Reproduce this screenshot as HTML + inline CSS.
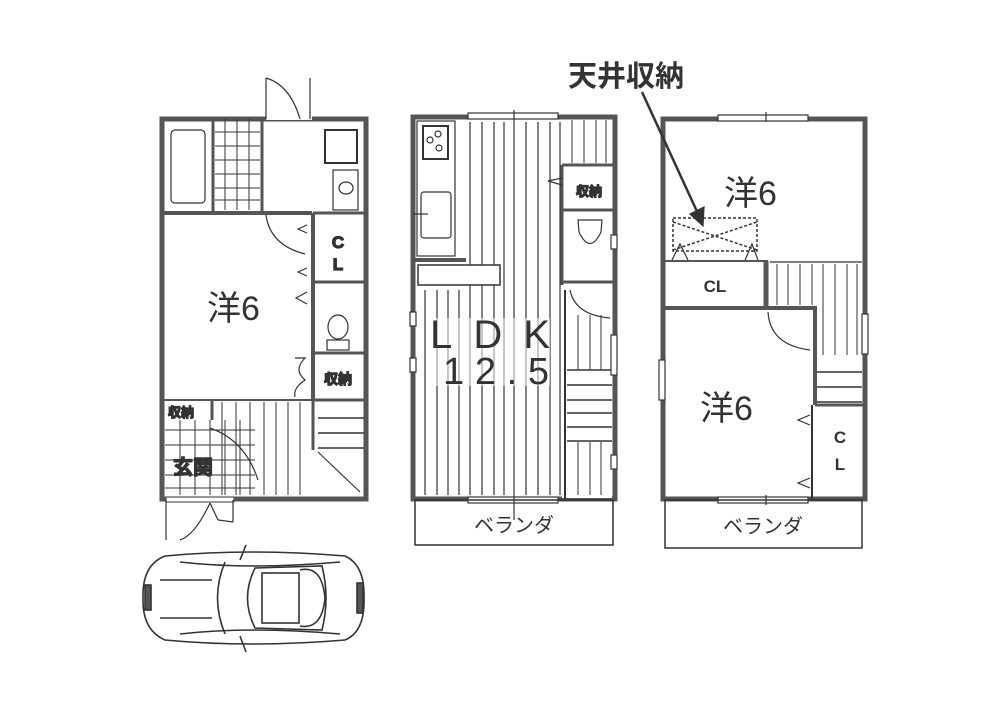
<!DOCTYPE html>
<html><head><meta charset="utf-8"><style>
html,body{margin:0;padding:0;background:#fff;}
svg{display:block}
text{font-family:"Liberation Sans","Noto Sans CJK JP",sans-serif;fill:#333;}
</style></head><body>
<svg width="1000" height="706" viewBox="0 0 1000 706" xmlns="http://www.w3.org/2000/svg">
<rect width="1000" height="706" fill="#fff"/>
<g stroke="#333" fill="none" stroke-width="1.2">

<!-- ===== PLAN 1 ===== -->
<rect x="162" y="119" width="204" height="380" stroke="#555" stroke-width="5"/>
<!-- top door -->
<rect x="266" y="114" width="46" height="6" fill="#fff" stroke="none"/>
<line x1="266" y1="78" x2="266" y2="119"/><line x1="310" y1="78" x2="310" y2="119"/>
<path d="M266 78 Q290 85 300 119"/>
<!-- bath wall -->
<line x1="162" y1="213" x2="312" y2="213" stroke="#555" stroke-width="4"/>
<line x1="213" y1="119" x2="213" y2="213" stroke="#555" stroke-width="3"/>
<line x1="262" y1="119" x2="262" y2="213" stroke="#555" stroke-width="3"/>
<rect x="171" y="130" width="34" height="73" rx="4"/>
<!-- tiles -->
<g stroke-width="1">
<line x1="225" y1="119" x2="225" y2="210"/><line x1="237" y1="119" x2="237" y2="210"/><line x1="249" y1="119" x2="249" y2="210"/>
<line x1="215" y1="132" x2="260" y2="132"/><line x1="215" y1="146" x2="260" y2="146"/><line x1="215" y1="160" x2="260" y2="160"/><line x1="215" y1="174" x2="260" y2="174"/><line x1="215" y1="188" x2="260" y2="188"/><line x1="215" y1="200" x2="260" y2="200"/>
</g>
<!-- washer etc -->
<rect x="325" y="130" width="32" height="33" stroke-width="2"/>
<rect x="333" y="170" width="25" height="40"/>
<ellipse cx="346" cy="188" rx="7" ry="6"/>
<!-- right column -->
<line x1="313" y1="213" x2="313" y2="400" stroke="#555" stroke-width="4"/>
<line x1="313" y1="213" x2="366" y2="213" stroke="#555" stroke-width="3"/>
<line x1="313" y1="282" x2="366" y2="282" stroke="#555" stroke-width="3"/>
<line x1="313" y1="353" x2="366" y2="353" stroke="#555" stroke-width="3"/>
<line x1="313" y1="400" x2="366" y2="400" stroke="#555" stroke-width="3"/>
<path d="M266 215 Q270 245 305 254"/>
<path d="M307 225 L298 229 L307 233 M307 268 L298 272 L307 276 M307 292 L296 298 L307 304"/>
<ellipse cx="338" cy="327" rx="10" ry="12"/><rect x="327" y="340" width="22" height="10"/>
<path d="M295 358 L305 358 Q293 370 305 380 Q293 388 295 397"/>
<text x="338" y="248" font-size="17" text-anchor="middle" font-weight="bold">C</text>
<text x="338" y="270" font-size="17" text-anchor="middle" font-weight="bold">L</text>
<text x="338" y="384" font-size="14" text-anchor="middle" font-weight="bold">収納</text>
<text x="207" y="320" font-size="34" stroke="none">洋6</text>
<!-- stairs right -->
<g stroke-width="1.5"><line x1="318" y1="418" x2="364" y2="418"/><line x1="318" y1="433" x2="364" y2="433"/><line x1="318" y1="448" x2="364" y2="448"/></g>
<line x1="313" y1="400" x2="313" y2="450" stroke="#555" stroke-width="3"/>
<line x1="318" y1="452" x2="360" y2="492"/>
<!-- bottom left -->
<line x1="162" y1="400" x2="313" y2="400" stroke="#555" stroke-width="2"/>
<g stroke-width="1"><line x1="222" y1="402" x2="222" y2="495"/><line x1="236" y1="402" x2="236" y2="495"/><line x1="250" y1="402" x2="250" y2="495"/><line x1="264" y1="402" x2="264" y2="495"/><line x1="276" y1="402" x2="276" y2="495"/><line x1="288" y1="402" x2="288" y2="495"/><line x1="300" y1="402" x2="300" y2="495"/>
<line x1="165" y1="430" x2="255" y2="430"/><line x1="165" y1="445" x2="255" y2="445"/><line x1="165" y1="460" x2="255" y2="460"/><line x1="165" y1="475" x2="255" y2="475"/><line x1="165" y1="488" x2="255" y2="488"/>
<line x1="180" y1="420" x2="180" y2="495"/><line x1="195" y1="420" x2="195" y2="495"/><line x1="210" y1="420" x2="210" y2="495"/><line x1="225" y1="420" x2="225" y2="495"/><line x1="240" y1="420" x2="240" y2="495"/></g>
<line x1="212" y1="400" x2="212" y2="420" stroke="#555" stroke-width="3"/>
<path d="M210 428 Q245 440 258 480"/>
<text x="168" y="417" font-size="13" font-weight="bold">収納</text>
<text x="173" y="474" font-size="20" font-weight="bold">玄関</text>
<!-- bottom door -->
<rect x="166" y="497" width="68" height="5" fill="#fff" stroke="#555"/>
<line x1="166" y1="500" x2="166" y2="540"/><line x1="233" y1="500" x2="233" y2="522"/>
<path d="M210 503 L218 520 L233 522 M180 540 Q195 535 210 503"/>

<!-- ===== PLAN 2 ===== -->
<rect x="413" y="117" width="202" height="382" stroke="#555" stroke-width="5"/>
<rect x="468" y="113" width="90" height="6" fill="#fff"/>
<rect x="468" y="497" width="90" height="6" fill="#fff"/>
<line x1="514" y1="110" x2="514" y2="520"/>
<rect x="415" y="500" width="198" height="45" stroke-width="1.5"/>
<text x="514" y="532" font-size="20" text-anchor="middle" stroke="none">ベランダ</text>
<g stroke-width="1.2">
<line x1="470" y1="122" x2="470" y2="495"/><line x1="482" y1="122" x2="482" y2="495"/><line x1="494" y1="122" x2="494" y2="495"/><line x1="504" y1="122" x2="504" y2="495"/><line x1="526" y1="122" x2="526" y2="495"/><line x1="538" y1="122" x2="538" y2="495"/><line x1="550" y1="122" x2="550" y2="495"/><line x1="560" y1="122" x2="560" y2="495"/>
<line x1="425" y1="290" x2="425" y2="495"/><line x1="437" y1="290" x2="437" y2="495"/><line x1="448" y1="290" x2="448" y2="495"/><line x1="459" y1="290" x2="459" y2="495"/>
</g>
<rect x="417" y="121" width="38" height="135" fill="#fff"/>
<rect x="423" y="126" width="25" height="33" stroke-width="2"/>
<circle cx="430" cy="140" r="3"/><circle cx="438" cy="134" r="3"/><circle cx="439" cy="148" r="3"/>
<rect x="421" y="192" width="30" height="46" rx="3"/>
<line x1="413" y1="214" x2="428" y2="214"/>
<line x1="415" y1="260" x2="466" y2="260" stroke="#555" stroke-width="4"/>
<rect x="418" y="265" width="82" height="20" fill="#fff" stroke-width="1.5"/>
<!-- right column -->
<rect x="562" y="120" width="50" height="378" fill="#fff" stroke="none"/>
<g stroke-width="1"><line x1="572" y1="120" x2="572" y2="163"/><line x1="584" y1="120" x2="584" y2="163"/><line x1="596" y1="120" x2="596" y2="163"/><line x1="606" y1="120" x2="606" y2="163"/></g>
<line x1="562" y1="165" x2="615" y2="165" stroke="#555" stroke-width="3"/>
<line x1="562" y1="165" x2="562" y2="285" stroke="#555" stroke-width="3"/>
<line x1="562" y1="210" x2="615" y2="210" stroke="#555" stroke-width="3"/>
<line x1="562" y1="282" x2="615" y2="282" stroke="#555" stroke-width="3"/>
<path d="M562 178 L548 181 L562 185"/>
<text x="589" y="196" font-size="13" text-anchor="middle" font-weight="bold">収納</text>
<path d="M578 220 L602 220 L601 232 Q590 255 579 232 Z"/>
<path d="M570 290 Q575 315 610 318"/>
<line x1="565" y1="290" x2="565" y2="500" stroke-width="2"/>
<g stroke-width="1"><line x1="578" y1="315" x2="578" y2="370"/><line x1="590" y1="315" x2="590" y2="370"/><line x1="601" y1="315" x2="601" y2="370"/>
<line x1="578" y1="442" x2="578" y2="495"/><line x1="590" y1="442" x2="590" y2="495"/><line x1="601" y1="442" x2="601" y2="495"/></g>
<g stroke-width="1.5"><line x1="567" y1="370" x2="612" y2="370"/><line x1="567" y1="385" x2="612" y2="385"/><line x1="567" y1="400" x2="612" y2="400"/><line x1="567" y1="413" x2="612" y2="413"/><line x1="567" y1="427" x2="612" y2="427"/><line x1="567" y1="441" x2="612" y2="441"/></g>
<rect x="611" y="235" width="6" height="14" fill="#fff"/><rect x="611" y="335" width="6" height="40" fill="#fff"/><rect x="611" y="455" width="6" height="14" fill="#fff"/>
<rect x="410" y="312" width="6" height="14" fill="#fff"/><rect x="410" y="358" width="6" height="14" fill="#fff"/>
<rect x="430" y="318" width="120" height="68" fill="#fff" stroke="none" opacity="0.55"/>
<text x="430" y="348" font-size="40" stroke="none" textLength="120">LDK</text>
<text x="443" y="384" font-size="38" stroke="none" textLength="106">12.5</text>

<!-- ===== PLAN 3 ===== -->
<rect x="663" y="119" width="202" height="380" stroke="#555" stroke-width="5"/>
<rect x="718" y="115" width="90" height="6" fill="#fff"/>
<rect x="718" y="497" width="90" height="6" fill="#fff"/>
<line x1="766" y1="112" x2="766" y2="122"/><line x1="766" y1="495" x2="766" y2="505"/>
<rect x="665" y="500" width="197" height="48" stroke-width="1.5"/>
<text x="763" y="533" font-size="20" text-anchor="middle" stroke="none">ベランダ</text>
<text x="724" y="205" font-size="34" stroke="none">洋6</text>
<!-- ceiling storage -->
<g stroke-dasharray="3,2" stroke-width="1.5"><rect x="673" y="218" width="84" height="33"/><path d="M673 250 L757 222 M673 222 L757 250"/></g>
<path d="M672 260 L680 244 L688 260 M745 260 L752 244 L758 260"/>
<line x1="642" y1="92" x2="700" y2="218" stroke-width="2.5"/>
<path d="M690 214 L703 226 L704 207 Z" fill="#333"/>
<text x="568" y="86" font-size="29" font-weight="bold" stroke="none">天井収納</text>
<!-- CL -->
<line x1="663" y1="261" x2="768" y2="261" stroke="#555" stroke-width="2"/>
<line x1="766" y1="261" x2="766" y2="310" stroke="#555" stroke-width="5"/>
<line x1="663" y1="308" x2="817" y2="308" stroke="#555" stroke-width="4"/>
<text x="715" y="292" font-size="17" text-anchor="middle" font-weight="bold" stroke="none">CL</text>
<line x1="770" y1="262" x2="862" y2="262"/>
<g stroke-width="1"><line x1="777" y1="264" x2="777" y2="305"/><line x1="788" y1="264" x2="788" y2="305"/><line x1="800" y1="264" x2="800" y2="305"/><line x1="812" y1="264" x2="812" y2="305"/>
<line x1="823" y1="264" x2="823" y2="355"/><line x1="835" y1="264" x2="835" y2="355"/><line x1="847" y1="264" x2="847" y2="355"/><line x1="857" y1="264" x2="857" y2="355"/></g>
<line x1="815" y1="308" x2="815" y2="405" stroke="#555" stroke-width="4"/>
<g stroke-width="1.5"><line x1="817" y1="372" x2="862" y2="372"/><line x1="817" y1="387" x2="862" y2="387"/><line x1="817" y1="402" x2="862" y2="402"/></g>
<path d="M768 312 Q770 345 810 350"/>
<line x1="815" y1="405" x2="865" y2="405" stroke="#555" stroke-width="3"/>
<line x1="812" y1="405" x2="812" y2="499" stroke-width="2"/>
<path d="M810 415 L798 420 L810 425 M810 478 L798 483 L810 488"/>
<text x="840" y="443" font-size="17" text-anchor="middle" font-weight="bold" stroke="none">C</text>
<text x="840" y="470" font-size="17" text-anchor="middle" font-weight="bold" stroke="none">L</text>
<text x="700" y="420" font-size="34" stroke="none">洋6</text>
<rect x="862" y="314" width="6" height="40" fill="#fff"/>
<rect x="659" y="360" width="6" height="40" fill="#fff"/>

<!-- ===== CAR ===== -->
<g stroke-width="1.6">
<path d="M165 556 Q250 548 345 556 Q365 565 364 598 Q365 632 345 640 Q250 648 165 640 Q142 630 143 598 Q142 565 165 556 Z"/>
<path d="M225 562 Q210 598 225 634"/>
<path d="M255 568 Q240 598 255 628 L322 630 Q330 598 322 566 Z"/>
<rect x="262" y="573" width="37" height="50"/>
<path d="M300 570 Q322 565 325 598 Q322 630 300 626"/>
<path d="M160 580 L212 580 M160 618 L212 618"/>
<path d="M180 562 Q250 570 340 562 M180 634 Q250 626 340 634"/>
<line x1="240" y1="560" x2="246" y2="545"/><line x1="240" y1="636" x2="246" y2="652"/>
<rect x="145" y="585" width="6" height="25" fill="#555"/>
<rect x="357" y="583" width="6" height="30" fill="#555"/>
</g>
</g>
</svg>
</body></html>
